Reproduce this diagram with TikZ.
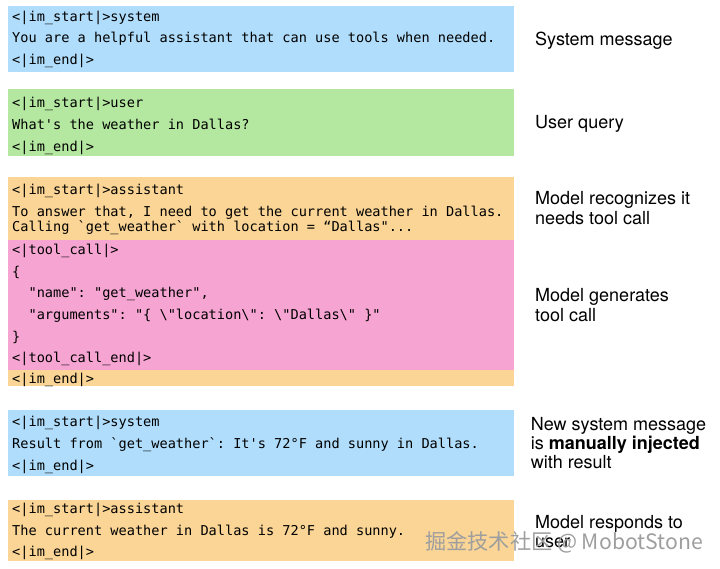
\documentclass[tikz,border=0pt]{standalone}
\usepackage{fontspec}
\setsansfont{TeX Gyre Heros}
\setmonofont{DejaVu Sans Mono}
\newfontfamily\cjk{Noto Sans CJK SC}
\usepackage{tikz}

\definecolor{sysblue}{RGB}{176,221,251}
\definecolor{usergreen}{RGB}{180,232,160}
\definecolor{asstorange}{RGB}{250,213,150}
\definecolor{callpink}{RGB}{246,165,210}

\begin{document}
\begin{tikzpicture}[x=1pt,y=-1pt,
  tok/.style={anchor=base west,inner sep=0pt,font=\ttfamily\fontsize{13.6}{16}\selectfont},
  note/.style={anchor=base west,inner sep=0pt,font=\sffamily\fontsize{18}{20}\selectfont}]
\useasboundingbox (0,0) rectangle (720,569);

% Boxes
\fill[sysblue] (8,6) rectangle (514,72);
\fill[usergreen] (8,89) rectangle (514,156);
\fill[asstorange] (8,177) rectangle (514,386);
\fill[callpink] (8,240) rectangle (514,370);
\fill[sysblue] (8,410) rectangle (514,476);
\fill[asstorange] (8,500) rectangle (514,561);

% System message
\node[tok] (s1) at (12,21.5) {<|im\_start|>system};
\node[tok] (s2) at (12,43) {You are a helpful assistant that can use tools when needed.};
\node[tok] (s3) at (12,65) {<|im\_end|>};
\node[note] (ls) at (535,46) {System message};

% User query
\node[tok] (u1) at (12,108) {<|im\_start|>user};
\node[tok] (u2) at (12,130) {What's the weather in Dallas?};
\node[tok] (u3) at (12,151.5) {<|im\_end|>};
\node[note] (lu) at (535,128.3) {User query};

% Assistant with tool call
\node[tok] (a1) at (12,195) {<|im\_start|>assistant};
\node[tok] (a2) at (12,216.5) {To answer that, I need to get the current weather in Dallas.};
\node[tok] (a3) at (12,232) {Calling `get\_weather` with location = “Dallas"...};
\node[tok] (t1) at (12,255) {<|tool\_call|>};
\node[tok] (t2) at (12,276.5) {\{};
\node[tok] (t3) at (12,298) {\ \ "name": "get\_weather",};
\node[tok] (t4) at (12,319.5) {\ \ "arguments": "\{ \textbackslash"location\textbackslash": \textbackslash"Dallas\textbackslash" \}"};
\node[tok] (t5) at (12,341) {\}};
\node[tok] (t6) at (12,362.5) {<|tool\_call\_end|>};
\node[tok] (a4) at (12,383.5) {<|im\_end|>};
\node[note] (la1) at (535,205) {Model recognizes it};
\node[note] (la2) at (535,225) {needs tool call};
\node[note] (lt1) at (535,301.7) {Model generates};
\node[note] (lt2) at (535,321.7) {tool call};

% Injected result
\node[tok] (r1) at (12,426.7) {<|im\_start|>system};
\node[tok] (r2) at (12,448) {Result from `get\_weather`: It's 72°F and sunny in Dallas.};
\node[tok] (r3) at (12,470) {<|im\_end|>};
\node[note] (lr1) at (530.7,430) {New system message};
\node[note] (lr2) at (530.7,449.3) {is \textbf{manually injected}};
\node[note] (lr3) at (530.7,468.3) {with result};

% Final answer
\node[tok] (f1) at (12,513) {<|im\_start|>assistant};
\node[tok] (f2) at (12,535) {The current weather in Dallas is 72°F and sunny.};
\node[tok] (f3) at (12,556.7) {<|im\_end|>};
\node[note] (lf1) at (535,528.3) {Model responds to};
\node[note] (lf2) at (535,547.8) {user};

% Watermark
\node[anchor=base west,inner sep=0pt,text=black!38,font=\cjk\fontsize{21.2}{23}\selectfont] (wm) at (425,549) {掘金技术社区 @ MobotStone};
\end{tikzpicture}
\end{document}
